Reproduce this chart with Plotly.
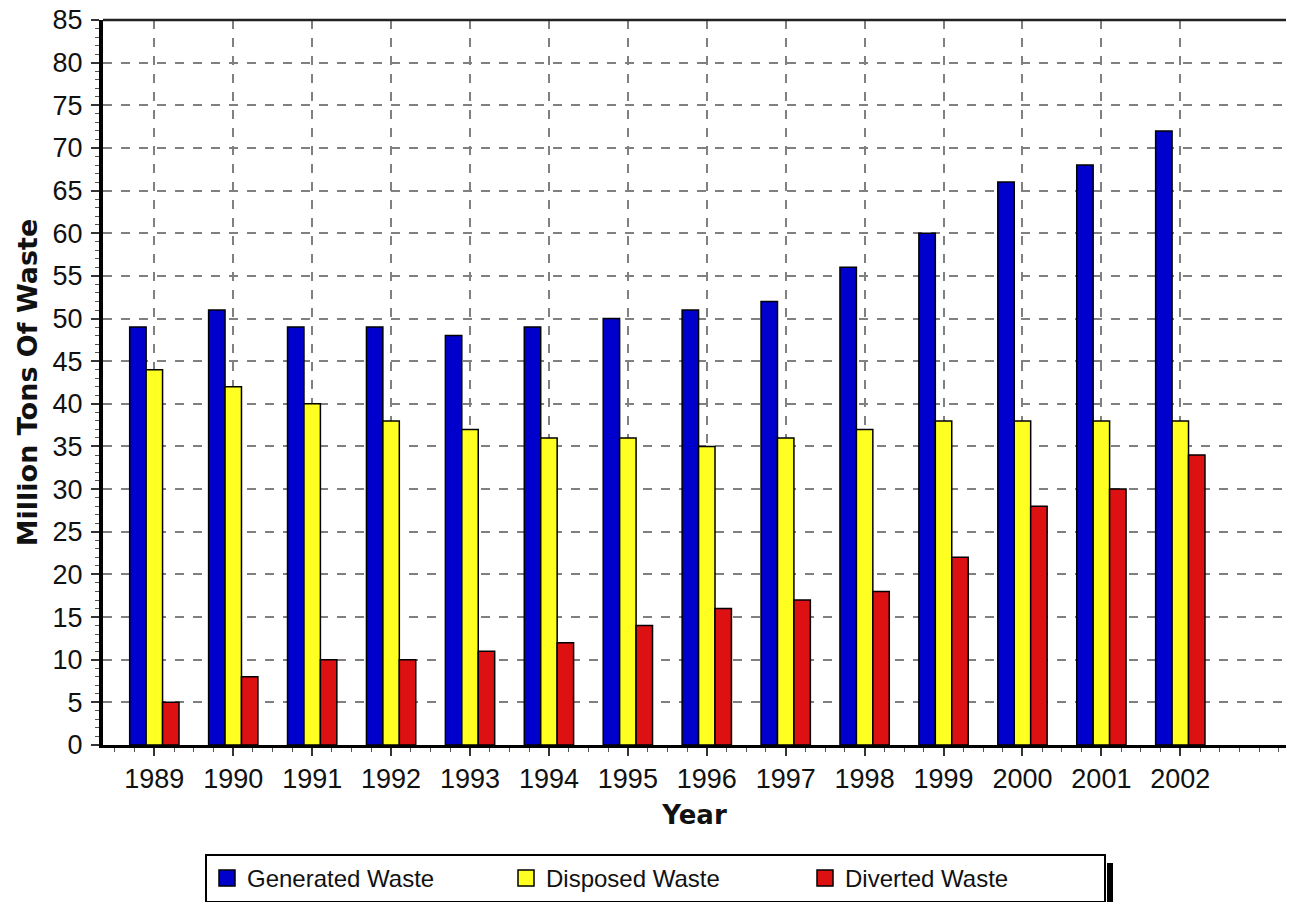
import plotly.graph_objects as go

years = [1989, 1990, 1991, 1992, 1993, 1994, 1995, 1996, 1997, 1998, 1999, 2000, 2001, 2002]
generated = [49, 51, 49, 49, 48, 49, 50, 51, 52, 56, 60, 66, 68, 72]
disposed = [44, 42, 40, 38, 37, 36, 36, 35, 36, 37, 38, 38, 38, 38]
diverted = [5, 8, 10, 10, 11, 12, 14, 16, 17, 18, 22, 28, 30, 34]
series_names = ["Generated Waste", "Disposed Waste", "Diverted Waste"]
series_colors = ["#0000cc", "#ffff22", "#dd1111"]

# the page body adds an 8px margin around the figure
OFF = 8
W, H = 1294 - 2 * OFF, 910 - 2 * OFF
L, R, T = 103 - OFF, 0, 20 - OFF
B = H - (745 - OFF)
FONT = "Liberation Sans, Arial, sans-serif"
BOLD = "DejaVu Sans, sans-serif"

fig = go.Figure()
for name, vals, col in zip(series_names, [generated, disposed, diverted], series_colors):
    fig.add_trace(go.Bar(
        x=years, y=vals, name=name, showlegend=False,
        marker=dict(color=col, line=dict(color="black", width=1.5)),
    ))
# legend entries with larger square swatches
for name, col in zip(series_names, series_colors):
    fig.add_trace(go.Scatter(
        x=[None], y=[None], mode="markers", name=name,
        marker=dict(symbol="square", size=16, color=col, line=dict(color="black", width=1.5)),
    ))

plot_w = W - L - R
plot_h = H - T - B

def px_x(p):
    return (p - OFF - L) / plot_w

def px_y(p):
    return (H - B - (p - OFF)) / plot_h

x_left = years[0] - (154 - 103) / 78.4
x_right = years[-1] + (1294 - 2 * OFF - 1173) / 78.4

fig.update_layout(
    width=W, height=H,
    margin=dict(l=L, r=R, t=T, b=B, pad=0, autoexpand=False),
    paper_bgcolor="white", plot_bgcolor="white",
    barmode="group", bargap=0.375, bargroupgap=0,
    font=dict(family=FONT, size=27, color="#111"),
    showlegend=True,
    legend=dict(
        orientation="h", x=px_x(205), xanchor="left", y=px_y(854), yanchor="top",
        bordercolor="black", borderwidth=2, bgcolor="white",
        font=dict(family=FONT, size=24, color="#111"),
        itemsizing="trace", itemwidth=30,
        entrywidth=254, entrywidthmode="pixels",
        traceorder="normal",
    ),
    xaxis=dict(
        range=[x_left, x_right], tickmode="array", tickvals=years,
        automargin=False,
        showline=True, linecolor="black", linewidth=3,
        ticks="outside", ticklen=8, tickwidth=1.5, tickcolor="#333",
        ticklabelstandoff=0,
        showgrid=True, gridcolor="#808080", griddash="dash", gridwidth=1.5,
        zeroline=False,
        minor=dict(tick0=years[0], dtick=0.25, ticks="outside", ticklen=4,
                   tickcolor="#555", tickwidth=1, showgrid=False),
        title=dict(text="<b>Year</b>", font=dict(family=BOLD, size=26, color="#111"), standoff=13),
    ),
    yaxis=dict(
        range=[0, 85], tickmode="linear", tick0=0, dtick=5,
        automargin=False, ticklabeloverflow="allow",
        showline=True, linecolor="black", linewidth=4,
        ticks="outside", ticklen=8, tickwidth=1.5, tickcolor="#333",
        ticklabelstandoff=3,
        showgrid=True, gridcolor="#808080", griddash="dash", gridwidth=1.5,
        zeroline=False,
        minor=dict(dtick=1, ticks="outside", ticklen=4, tickcolor="#555", tickwidth=1, showgrid=False),
        title=dict(text="<b>Million Tons Of Waste</b>", font=dict(family=BOLD, size=27, color="#111"), standoff=8),
    ),
    shapes=[
        dict(type="line", xref="paper", yref="paper", x0=0, x1=1, y0=1, y1=1,
             line=dict(color="#222", width=2.5)),
        dict(type="rect", xref="paper", yref="paper", x0=px_x(1107), x1=px_x(1113),
             y0=px_y(902), y1=px_y(863), fillcolor="black", line=dict(width=0)),
    ],
)

fig.write_html("out.html")
